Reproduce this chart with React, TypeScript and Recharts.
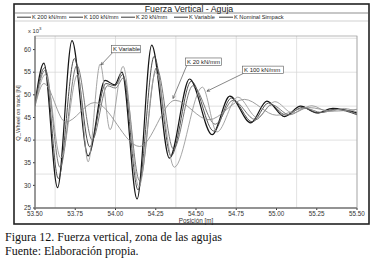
import {
  LineChart,
  Line,
  XAxis,
  YAxis,
  CartesianGrid,
  ReferenceLine,
} from 'recharts';

// Vertical wheel force along the switch (values in kN, axis shows x 10^3 N)
const posK200 = [53.5, 53.555, 53.64, 53.73, 53.83, 53.935, 53.995, 54.04, 54.134, 54.225, 54.335, 54.46, 54.6, 54.71, 54.84, 54.94, 55.05, 55.15, 55.25, 55.35, 55.5];
const valK200 = [48, 57, 29.5, 62, 36.5, 53.2, 52.2, 55, 27, 61, 36, 53.5, 41.2, 49.7, 43.8, 48.6, 45.2, 47.5, 46, 47, 46];

const posK100 = [53.5, 53.56, 53.645, 53.745, 53.84, 53.94, 53.997, 54.045, 54.14, 54.24, 54.345, 54.47, 54.61, 54.72, 54.85, 54.95, 55.06, 55.16, 55.26, 55.36, 55.5];
const valK100 = [48, 56, 31.5, 58, 38.5, 52.5, 52, 54.5, 29, 58.5, 36.5, 53, 42, 49.3, 44, 48.2, 45.5, 47.2, 46, 46.8, 45.6];

const posK20 = [53.5, 53.565, 53.655, 53.76, 53.855, 53.95, 54.0, 54.05, 54.15, 54.255, 54.36, 54.48, 54.62, 54.73, 54.87, 54.97, 55.08, 55.18, 55.28, 55.38, 55.5];
const valK20 = [48, 55.5, 34, 56.5, 40, 52, 51.5, 53.8, 31, 56, 38, 52, 43.5, 48.8, 44.5, 47.8, 45.6, 47, 46.1, 46.8, 45.8];

const posKVar = [53.5, 53.565, 53.66, 53.765, 53.83, 53.905, 53.966, 54.047, 54.145, 54.25, 54.365, 54.54, 54.63, 54.76, 54.88, 54.99, 55.1, 55.22, 55.32, 55.42, 55.5];
const valKVar = [47.5, 54.5, 36, 54.5, 35.2, 56.8, 42.3, 56.3, 29.7, 55, 34, 51.7, 41.8, 49.5, 45, 48.5, 46, 47.6, 46.3, 47, 46.2];

const posNominal = [53.5, 53.555, 53.69, 53.87, 54.15, 54.37, 54.58, 54.8, 55.0, 55.2, 55.35, 55.5];
const valNominal = [47.5, 52.5, 44, 48.3, 38.6, 48.8, 44.5, 49, 45.5, 47.2, 46.4, 46.8];

const xTicks = [53.5, 53.75, 54.0, 54.25, 54.5, 54.75, 55.0, 55.25, 55.5];
const yTicks = [25, 30, 35, 40, 45, 50, 55, 60];
const xGrid = [53.5, 53.625, 53.75, 53.875, 54.0, 54.125, 54.25, 54.375, 54.5, 54.625, 54.75, 54.875, 55.0, 55.125, 55.25, 55.375, 55.5];
const yGrid = [25, 27.5, 30, 32.5, 35, 37.5, 40, 42.5, 45, 47.5, 50, 52.5, 55, 57.5, 60, 62.5];

const legendNames = ['K 200 kN/mm', 'K 100 kN/mm', 'K 20 kN/mm', 'K Variable', 'K Nominal Simpack'];

const toPoints = (pos: number[], val: number[]) => pos.map((x, i) => ({ x, y: val[i] }));

const series = [
  { name: 'K 200 kN/mm', data: toPoints(posK200, valK200), color: '#151515', width: 1.2 },
  { name: 'K 100 kN/mm', data: toPoints(posK100, valK100), color: '#444444', width: 0.95 },
  { name: 'K 20 kN/mm', data: toPoints(posK20, valK20), color: '#6a6a6a', width: 0.9 },
  { name: 'K Variable', data: toPoints(posKVar, valKVar), color: '#9c9c9c', width: 0.9 },
  { name: 'K Nominal Simpack', data: toPoints(posNominal, valNominal), color: '#8c8c8c', width: 0.85 },
];

// callouts: arrow from label box (tail) to the curve (tip)
const callouts = [
  { text: 'K Variable', tail: { x: 53.984, y: 59.4 }, tip: { x: 53.91, y: 56.6 }, boxW: 29 },
  { text: 'K 20 kN/mm', tail: { x: 54.444, y: 56.6 }, tip: { x: 54.357, y: 49.2 }, boxW: 36 },
  { text: 'K 100 kN/mm', tail: { x: 54.798, y: 54.8 }, tip: { x: 54.568, y: 50.8 }, boxW: 41 },
];

const FONT = '"Liberation Sans", Arial, sans-serif';
const SERIF = '"Liberation Serif", "Times New Roman", serif';

function calloutShape(text: string, boxW: number) {
  return (props: any) => {
    const { x1, y1, x2, y2 } = props;
    const ang = Math.atan2(y2 - y1, x2 - x1);
    const a = 3.2;
    const h1x = x2 - a * Math.cos(ang - 0.45);
    const h1y = y2 - a * Math.sin(ang - 0.45);
    const h2x = x2 - a * Math.cos(ang + 0.45);
    const h2y = y2 - a * Math.sin(ang + 0.45);
    const bx = x1 - 1.5;
    const by = y1 - 7;
    return (
      <g>
        <line x1={x1} y1={y1} x2={x2} y2={y2} stroke="#555" strokeWidth={0.7} />
        <polyline points={`${h1x},${h1y} ${x2},${y2} ${h2x},${h2y}`} fill="none" stroke="#555" strokeWidth={0.7} />
        <rect x={bx} y={by} width={boxW} height={7.5} fill="#fff" stroke="#555" strokeWidth={0.6} />
        <text x={bx + 1.5} y={by + 5.8} fontSize={6} fill="#222" style={{ fontFamily: FONT }}>
          {text}
        </text>
      </g>
    );
  };
}

export default function App() {
  const legendX = [17, 69, 121, 174, 219];
  return (
    <div style={{ position: 'absolute', left: 0, top: 0, width: 377, height: 264, background: '#fff', fontFamily: FONT }}>
      <div style={{ position: 'absolute', left: 0, top: 0 }}>
        <LineChart width={377} height={264} margin={{ top: 36, right: 20, bottom: 36, left: 13 }}>
          <CartesianGrid stroke="#d4d4d4" strokeWidth={0.7} verticalValues={xGrid} horizontalValues={yGrid} />
          <XAxis
            type="number"
            dataKey="x"
            domain={[53.5, 55.5]}
            ticks={xTicks}
            tickFormatter={(v: number) => v.toFixed(2)}
            tick={{ fontSize: 6.3, fill: '#333', fontFamily: FONT }}
            tickSize={2}
            tickMargin={2}
            stroke="#333"
            height={20}
            allowDataOverflow
            label={{ value: 'Posición [m]', position: 'insideBottom', offset: 5, fontSize: 6.3, fill: '#333' }}
          />
          <YAxis
            type="number"
            domain={[25, 63]}
            ticks={yTicks}
            tick={{ fontSize: 6.3, fill: '#333', fontFamily: FONT }}
            tickSize={2}
            tickMargin={2}
            stroke="#333"
            width={22}
            allowDataOverflow
          />
          {series.map((s) => (
            <Line
              key={s.name}
              data={s.data}
              dataKey="y"
              type="monotone"
              stroke={s.color}
              strokeWidth={s.width}
              dot={false}
              isAnimationActive={false}
            />
          ))}
          {callouts.map((c) => (
            <ReferenceLine
              key={c.text}
              segment={[c.tail, c.tip]}
              shape={calloutShape(c.text, c.boxW)}
            />
          ))}
        </LineChart>
      </div>
      <svg width={377} height={264} style={{ position: 'absolute', left: 0, top: 0, pointerEvents: 'none' }}>
        {/* outer frame */}
        <rect x={14} y={4} width={355} height={220} fill="none" stroke="#222" strokeWidth={1.6} />
        <text x={189} y={11.5} fontSize={8.8} textAnchor="middle" fill="#222" style={{ fontFamily: FONT }}>
          Fuerza Vertical - Aguja
        </text>
        <line x1={15} y1={13} x2={368} y2={13} stroke="#444" strokeWidth={0.6} />
        {legendNames.map((n, i) => (
          <g key={n}>
            <line x1={legendX[i]} y1={17.2} x2={legendX[i] + 14} y2={17.2} stroke="#222" strokeWidth={0.9} />
            <text x={legendX[i] + 15} y={19.3} fontSize={5.7} fill="#222" style={{ fontFamily: FONT }}>
              {n}
            </text>
          </g>
        ))}
        <line x1={15} y1={21} x2={368} y2={21} stroke="#888" strokeWidth={0.4} />
        {/* plot border */}
        <rect x={35} y={36} width={322} height={172} fill="none" stroke="#999" strokeWidth={0.7} />
        <text x={28} y={32.5} fontSize={5.8} fill="#333" style={{ fontFamily: FONT }}>
          x 10<tspan dy={-2.5} fontSize={4.3}>3</tspan>
        </text>
        <text
          x={20}
          y={113}
          fontSize={5.8}
          fill="#333"
          textAnchor="middle"
          transform="rotate(-90 20 113)"
          style={{ fontFamily: FONT }}
        >
          Q_Wheel on track [N]
        </text>
        <text x={5} y={241} fontSize={12} fill="#111" style={{ fontFamily: SERIF }}>
          Figura 12. Fuerza vertical, zona de las agujas
        </text>
        <text x={5} y={255} fontSize={12} fill="#111" style={{ fontFamily: SERIF }}>
          Fuente: Elaboración propia.
        </text>
      </svg>
    </div>
  );
}
